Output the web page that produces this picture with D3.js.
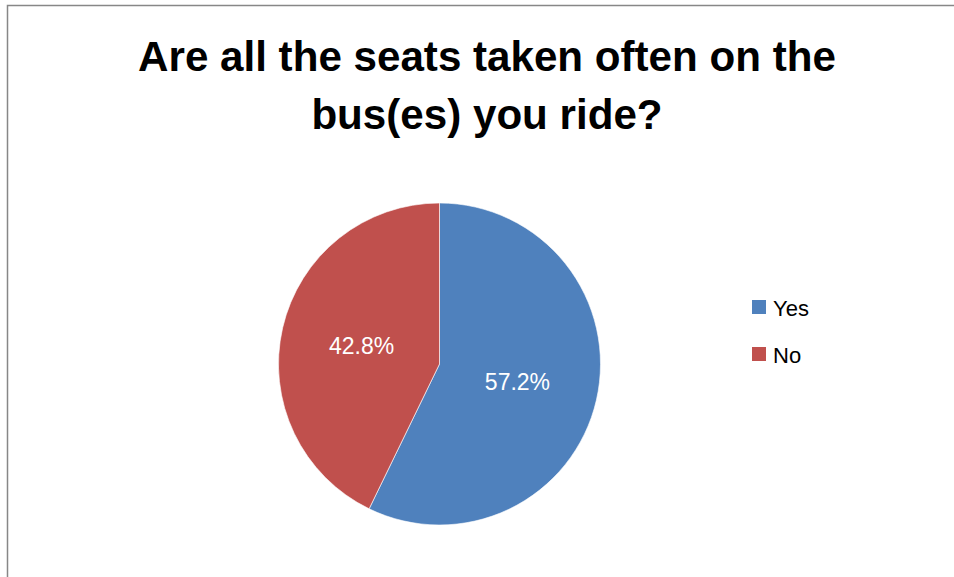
<!DOCTYPE html>
<html>
<head>
<meta charset="utf-8">
<script src="https://cdn.jsdelivr.net/npm/d3@7/dist/d3.min.js"></script>
<style>
  html, body { margin: 0; padding: 0; background: #fff; }
  svg { display: block; }
  text { font-family: "Liberation Sans", Arial, sans-serif; }
</style>
</head>
<body>
<svg id="chart" width="954" height="577"></svg>
<script>
// ---- data ----
const titleLines = ["Are all the seats taken often on the", "bus(es) you ride?"];
const categories = ["Yes", "No"];
const values = [57.2, 42.8];
const colors = ["#4F81BD", "#C0504D"];

const svg = d3.select("#chart");
const W = 954, H = 577;

// chart area border (extends past right and bottom edges)
svg.append("rect")
  .attr("x", 7.5).attr("y", 5.5)
  .attr("width", W + 20).attr("height", H + 20)
  .attr("fill", "#fff")
  .attr("stroke", "#878787")
  .attr("stroke-width", 1.5);

// title
const titleCx = 487;
const t1 = svg.append("text")
  .attr("x", titleCx).attr("y", 71)
  .attr("text-anchor", "middle")
  .attr("font-weight", "bold")
  .attr("font-size", 40)
  .attr("fill", "#000")
  .text(titleLines[0]);
const w1 = t1.node().getComputedTextLength();
const titleSize = 40 * 698 / w1;
t1.attr("font-size", titleSize);
svg.append("text")
  .attr("x", titleCx).attr("y", 129)
  .attr("text-anchor", "middle")
  .attr("font-weight", "bold")
  .attr("font-size", titleSize)
  .attr("fill", "#000")
  .text(titleLines[1]);

// pie
const cx = 439.5, cy = 364, R = 161;
const data = categories.map((c, i) => ({ cat: c, value: values[i], color: colors[i] }));
const pie = d3.pie().sort(null).value(d => d.value);
const arc = d3.arc().innerRadius(0).outerRadius(R);
const labelArc = d3.arc().innerRadius(80).outerRadius(80);
const arcs = pie(data);

const g = svg.append("g").attr("transform", `translate(${cx},${cy})`);
g.selectAll("path.slice")
  .data(arcs)
  .enter().append("path")
  .attr("class", "slice")
  .attr("d", arc)
  .attr("fill", d => d.data.color)
  .attr("stroke", "#fff")
  .attr("stroke-width", 0.6);

g.selectAll("text.lbl")
  .data(arcs)
  .enter().append("text")
  .attr("class", "lbl")
  .attr("x", d => labelArc.centroid(d)[0])
  .attr("y", d => labelArc.centroid(d)[1])
  .attr("text-anchor", "middle")
  .attr("dy", "0.35em")
  .attr("font-size", 23)
  .attr("fill", "#fff")
  .text(d => d.data.value.toFixed(1) + "%");

// legend
const legend = svg.append("g").attr("transform", "translate(752,300)");
const items = legend.selectAll("g.item")
  .data(data)
  .enter().append("g")
  .attr("class", "item")
  .attr("transform", (d, i) => `translate(0,${i * 47})`);
items.append("rect")
  .attr("x", 0).attr("y", 0)
  .attr("width", 14).attr("height", 14)
  .attr("fill", d => d.color);
items.append("text")
  .attr("x", 21).attr("y", 16)
  .attr("font-size", 22)
  .attr("fill", "#000")
  .text(d => d.cat);
</script>
</body>
</html>
